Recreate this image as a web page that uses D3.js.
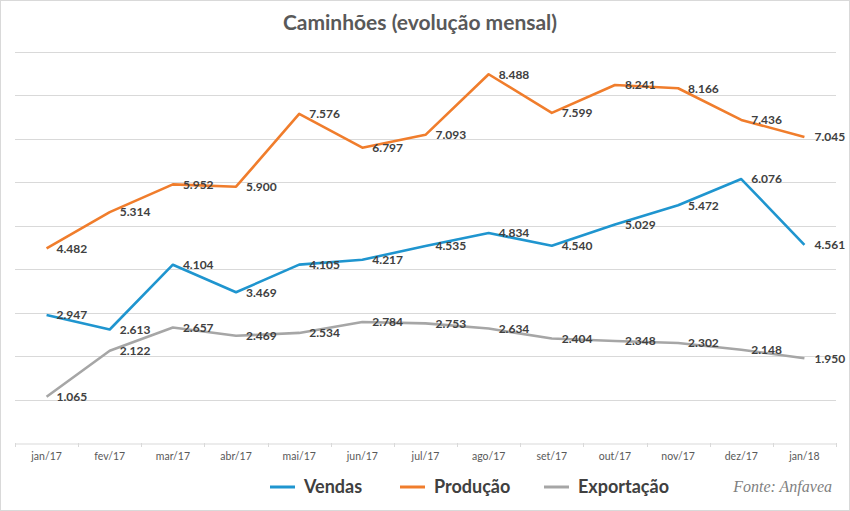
<!DOCTYPE html>
<html>
<head>
<meta charset="utf-8">
<script src="https://cdn.jsdelivr.net/npm/d3@7"></script>
<style>
body { margin: 0; background: #fff; }
svg { display: block; }
</style>
</head>
<body>
<svg width="850" height="511"></svg>
<script>
// the data
var meses = ["jan/17", "fev/17", "mar/17", "abr/17", "mai/17", "jun/17", "jul/17",
  "ago/17", "set/17", "out/17", "nov/17", "dez/17", "jan/18"];
var vendas = [2947, 2613, 4104, 3469, 4105, 4217, 4535, 4834, 4540, 5029, 5472, 6076, 4561];
var producao = [4482, 5314, 5952, 5900, 7576, 6797, 7093, 8488, 7599, 8241, 8166, 7436, 7045];
var exportacao = [1065, 2122, 2657, 2469, 2534, 2784, 2753, 2634, 2404, 2348, 2302, 2148, 1950];
var yTicks = [0, 1000, 2000, 3000, 4000, 5000, 6000, 7000, 8000, 9000];

var series = [
  {name: "Vendas", values: vendas, color: "#1f95cf"},
  {name: "Produção", values: producao, color: "#f07d2c"},
  {name: "Exportação", values: exportacao, color: "#a6a6a6"}
];

var svg = d3.select("svg"),
  width = +svg.attr("width"),
  height = +svg.attr("height");

var plot = {left: 15, right: 836, top: 52, bottom: 443};

var ptBR = d3.formatLocale({decimal: ",", thousands: ".", grouping: [3], currency: ["R$", ""]});
var fmt = ptBR.format(",d");

// border
svg.append("rect")
  .attr("x", 0.5).attr("y", 0.5)
  .attr("width", width - 1).attr("height", height - 1)
  .attr("fill", "#fff")
  .attr("stroke", "#d9d9d9");

var x = d3.scaleBand()
  .domain(meses)
  .range([plot.left, plot.right]);

var y = d3.scaleLinear()
  .domain([0, 9000])
  .range([plot.bottom, plot.top]);

// gridlines
svg.append("g")
  .selectAll("line")
  .data(yTicks.slice(1))
  .enter().append("line")
  .attr("x1", plot.left).attr("x2", plot.right)
  .attr("y1", function(d) { return Math.round(y(d)) + 0.5; })
  .attr("y2", function(d) { return Math.round(y(d)) + 0.5; })
  .attr("stroke", "#d9d9d9")
  .attr("stroke-width", 1);

// x axis
var xAxis = svg.append("g")
  .attr("transform", "translate(0," + (Math.round(plot.bottom) + 0.5) + ")")
  .call(d3.axisBottom(x).tickSize(0).tickPadding(9));
xAxis.select(".domain").attr("stroke", "#d9d9d9");
xAxis.selectAll("text")
  .attr("fill", "#595959")
  .style("font-family", "Lato, 'Open Sans', sans-serif")
  .style("font-size", "10.5px");

// tick marks between categories
svg.append("g")
  .selectAll("line")
  .data(meses.concat(["end"]))
  .enter().append("line")
  .attr("x1", function(d, i) { return Math.round(plot.left + i * x.step()) + 0.5; })
  .attr("x2", function(d, i) { return Math.round(plot.left + i * x.step()) + 0.5; })
  .attr("y1", Math.round(plot.bottom))
  .attr("y2", Math.round(plot.bottom) + 4)
  .attr("stroke", "#d9d9d9");

var cx = function(d, i) { return x(meses[i]) + x.bandwidth() / 2; };

var line = d3.line()
  .x(cx)
  .y(function(d) { return y(d); });

// lines
svg.append("g")
  .selectAll("path")
  .data(series)
  .enter().append("path")
  .attr("d", function(s) { return line(s.values); })
  .attr("fill", "none")
  .attr("stroke", function(s) { return s.color; })
  .attr("stroke-width", 2.6)
  .attr("stroke-linejoin", "round");

// data labels, to the right of each point
series.forEach(function(s) {
  svg.append("g")
    .selectAll("text")
    .data(s.values)
    .enter().append("text")
    .attr("x", function(d, i) { return cx(d, i) + 10; })
    .attr("y", function(d) { return y(d); })
    .attr("dy", "0.36em")
    .attr("fill", "#404040")
    .style("font-family", "Lato, 'Open Sans', sans-serif")
    .style("font-weight", "bold")
    .style("font-size", "12px")
    .text(function(d) { return fmt(d); });
});

// title
svg.append("text")
  .attr("x", 420)
  .attr("y", 30)
  .attr("text-anchor", "middle")
  .attr("fill", "#595959")
  .style("font-family", "Lato, 'Open Sans', sans-serif")
  .style("font-weight", "bold")
  .style("font-size", "21px")
  .text("Caminhões (evolução mensal)");

// legend
var legendX = [270, 400, 544];
var legend = svg.append("g")
  .selectAll("g")
  .data(series)
  .enter().append("g")
  .attr("transform", function(s, i) { return "translate(" + legendX[i] + ",487)"; });
legend.append("line")
  .attr("x1", 0).attr("x2", 25)
  .attr("stroke", function(s) { return s.color; })
  .attr("stroke-width", 3);
legend.append("text")
  .attr("x", 34)
  .attr("dy", "0.36em")
  .attr("fill", "#404040")
  .style("font-family", "Lato, 'Open Sans', sans-serif")
  .style("font-weight", "bold")
  .style("font-size", "18px")
  .text(function(s) { return s.name; });

svg.append("text")
  .attr("x", 832)
  .attr("y", 492)
  .attr("text-anchor", "end")
  .attr("fill", "#7f7f7f")
  .style("font-family", "'Liberation Serif', serif")
  .style("font-style", "italic")
  .style("font-size", "16px")
  .text("Fonte: Anfavea");
</script>
</body>
</html>
